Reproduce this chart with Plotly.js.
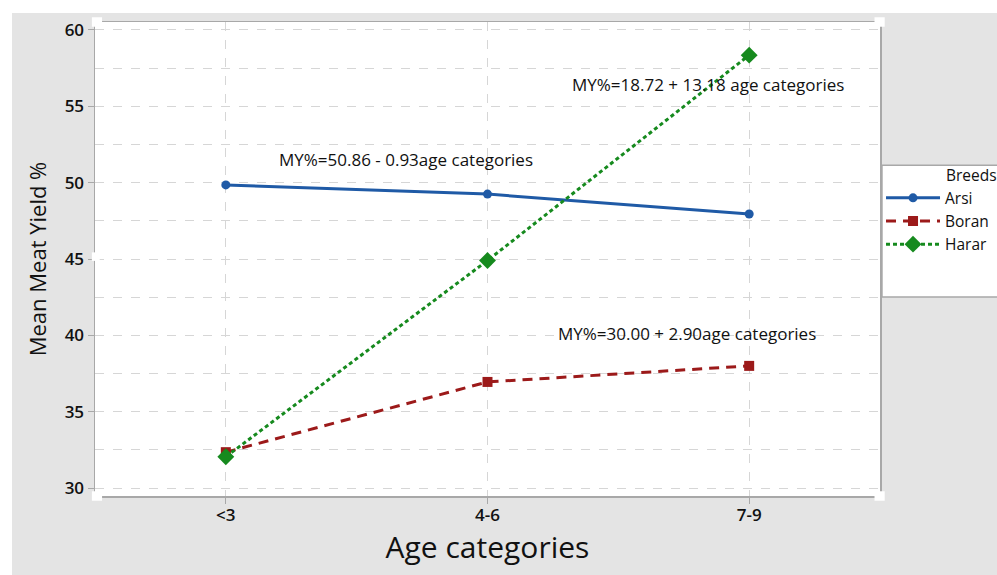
<!DOCTYPE html>
<html>
<head>
<meta charset="utf-8">
<script src="https://cdn.plot.ly/plotly-3.0.1.min.js"></script>
<style>
html,body{margin:0;padding:0;background:#ffffff;overflow:hidden;}
#chart{position:absolute;left:12px;top:13px;width:985px;height:562px;}
</style>
</head>
<body>
<div id="chart"></div>
<script>
const categories = ["<3", "4-6", "7-9"];
const arsi = [49.85, 49.25, 47.95];
const boran = [32.35, 36.95, 38.0];
const harar = [32.05, 44.9, 58.35];
const seriesNames = ["Arsi", "Boran", "Harar"];
const equations = [
  "MY%=50.86 - 0.93age categories",
  "MY%=18.72 + 13.18 age categories",
  "MY%=30.00 + 2.90age categories"
];
const yTicks = [30, 35, 40, 45, 50, 55, 60];

const FONT = "Open Sans, Noto Sans, sans-serif";
const colors = ["#1f5aa6", "#9c1a1a", "#168a1e"];

const traces = [
  {x: categories, y: arsi, name: seriesNames[0], type: "scatter", mode: "lines+markers",
   line: {color: colors[0], width: 3, dash: "solid"}, marker: {symbol: "circle", size: 9, color: colors[0]}},
  {x: categories, y: boran, name: seriesNames[1], type: "scatter", mode: "lines+markers",
   line: {color: colors[1], width: 3, dash: "10px,7px"}, marker: {symbol: "square", size: 10, color: colors[1]}},
  {x: categories, y: harar, name: seriesNames[2], type: "scatter", mode: "lines+markers",
   line: {color: colors[2], width: 3, dash: "4px,3px"}, marker: {symbol: "diamond", size: 13, color: colors[2]}}
];

const annFont = {family: FONT, size: 17, color: "#111"};
const layout = {
  width: 985, height: 562,
  paper_bgcolor: "#e4e4e4",
  plot_bgcolor: "#ffffff",
  margin: {l: 83, r: 117, t: 9, b: 79, autoexpand: false},
  showlegend: true,
  legend: {x: 1.0013, y: 0.664, xanchor: "left", yanchor: "top", bgcolor: "rgba(0,0,0,0)",
           borderwidth: 0, font: {family: FONT, size: 15.5, color: "#111"}, tracegroupgap: 0,
           itemwidth: 54},
  xaxis: {
    type: "category", range: [-0.5, 2.5],
    showline: true, mirror: true, linecolor: "#a8a8a8", linewidth: 1.5,
    ticks: "outside", ticklen: 6, tickcolor: "#a8a8a8",
    showgrid: true, gridcolor: "#d6d6d6", griddash: "dash", gridwidth: 1,
    zeroline: false, ticklabelstandoff: -3,
    tickfont: {family: FONT, size: 17, color: "#111", weight: 600},
    title: {text: "Age categories", font: {family: FONT, size: 30, color: "#111", weight: 500}, standoff: 10}
  },
  yaxis: {
    range: [29.48, 60.52],
    tickvals: yTicks, ticktext: yTicks.map(String),
    showline: true, mirror: true, linecolor: "#a8a8a8", linewidth: 1.5,
    ticks: "outside", ticklen: 6, tickcolor: "#a8a8a8",
    showgrid: true, gridcolor: "#d6d6d6", griddash: "dash", gridwidth: 1,
    minor: {dtick: 2.5, tick0: 30, showgrid: true, gridcolor: "#d6d6d6", griddash: "dash", gridwidth: 1, ticks: ""},
    zeroline: false,
    tickfont: {family: FONT, size: 17, color: "#111", weight: 600},
    title: {text: "Mean Meat Yield %", font: {family: FONT, size: 22, color: "#111", weight: 500}, standoff: 12}
  },
  annotations: [
    {x: 0.69, y: 51.5, xref: "x", yref: "y", text: equations[0], showarrow: false, font: annFont},
    {x: 1.843, y: 56.4, xref: "x", yref: "y", text: equations[1], showarrow: false, font: annFont},
    {x: 1.762, y: 40.15, xref: "x", yref: "y", text: equations[2], showarrow: false, font: annFont},
    {x: 1.082, y: 0.704, xref: "paper", yref: "paper", xanchor: "left", yanchor: "top",
     text: "Breeds", showarrow: false, font: {family: FONT, size: 15.5, color: "#111"}}
  ],
  shapes: [
    {type: "rect", xref: "paper", yref: "paper", x0: 1.0025, x1: 1.3, y0: 0.42, y1: 0.698,
     fillcolor: "#ffffff", line: {color: "#a8a8a8", width: 1.5}, layer: "below"},
    {type: "rect", xref: "paper", yref: "paper", x0: -0.004, x1: 0.009, y0: 0.99, y1: 1.01,
     fillcolor: "#ffffff", line: {width: 0}},
    {type: "rect", xref: "paper", yref: "paper", x0: 0.993, x1: 1.006, y0: 0.99, y1: 1.01,
     fillcolor: "#ffffff", line: {width: 0}},
    {type: "rect", xref: "paper", yref: "paper", x0: -0.004, x1: 0.009, y0: -0.01, y1: 0.01,
     fillcolor: "#ffffff", line: {width: 0}},
    {type: "rect", xref: "paper", yref: "paper", x0: 0.993, x1: 1.006, y0: -0.01, y1: 0.01,
     fillcolor: "#ffffff", line: {width: 0}},
    {type: "rect", xref: "paper", yref: "paper", x0: -0.004, x1: 0.006, y0: 0.496, y1: 0.514,
     fillcolor: "#ffffff", line: {width: 0}}
  ]
};

Plotly.newPlot("chart", traces, layout, {displayModeBar: false, staticPlot: true});
</script>
</body>
</html>
